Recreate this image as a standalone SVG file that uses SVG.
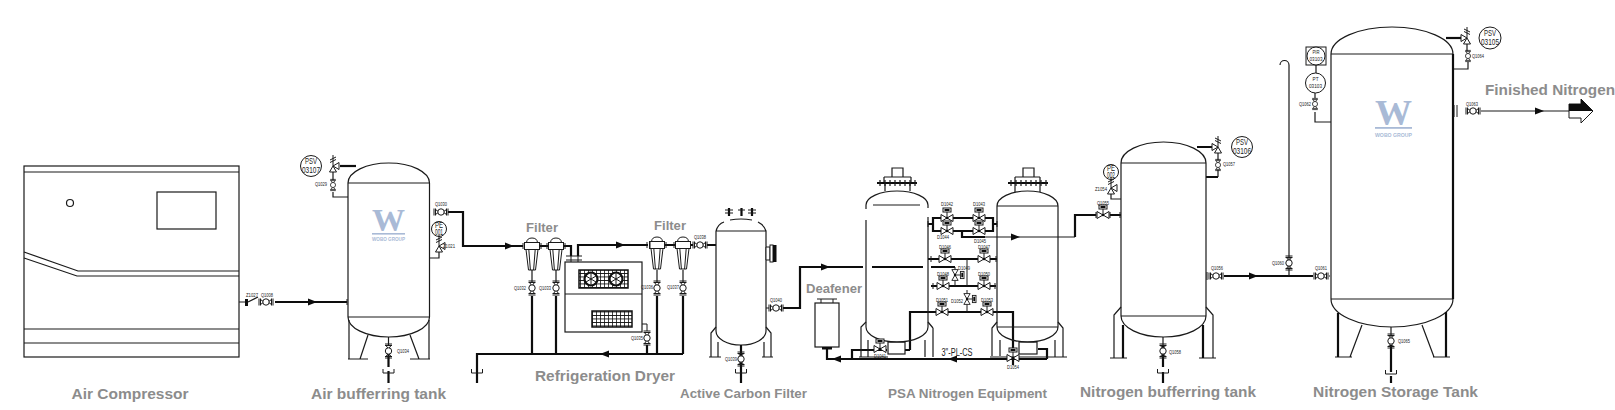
<svg xmlns="http://www.w3.org/2000/svg" width="1615" height="410" viewBox="0 0 1615 410">
<style>
text{font-family:"Liberation Sans",Arial,sans-serif}
.n{fill:none;stroke:#1a1a1a;stroke-width:1.2}
.w{fill:#fff;stroke:#1a1a1a;stroke-width:1}
.p{fill:none;stroke:#0d0d0d;stroke-width:2.2}
.f{fill:none;stroke:#1a1a1a;stroke-width:1}
.k{fill:#0d0d0d;stroke:none}
.g{fill:#8c8c8c;font-weight:bold;font-size:15px;text-anchor:middle}
.l{fill:#222;font-size:6px;text-anchor:middle}
.i{fill:#222;font-size:9px;text-anchor:middle}
.logo{fill:#a9bad6;font-family:"Liberation Serif",serif;font-weight:bold;text-anchor:middle}
.lg{fill:#a9bad6;font-weight:bold;font-size:6px;text-anchor:middle}
</style>
<defs>
<g id="gv"><path class="f" stroke-width="1.4" d="M-7-3.500V3.500M-5.500-3.500V3.500M7-3.500V3.500M5.500-3.500V3.500M-5.500-2.500-2 0-5.500 2.500M5.500-2.500 2 0 5.500 2.500"/><circle class="w" r="3.200" stroke-width="1.300"/></g>
<g id="av"><path class="w" stroke-width="1.200" d="M-6-3.500V3.500L6-3.500V3.500Z"/><path class="f" d="M0 0V-6"/><rect class="w" x="-4" y="-10" width="8" height="4"/><rect class="k" x="-2.500" y="-9" width="5" height="2"/><circle class="k" r="1.300"/></g>
<g id="sv"><path class="w" stroke-width="1.200" d="M0 0 6-3.500V3.500ZM0 0-3.500 6H3.500Z"/><path class="f" stroke-width="1.200" d="M0 0V-11M-3-6 3-9M-3-3.500 3-6.500"/></g>
<g id="ar"><path class="k" d="M-5-3.500 4 0-5 3.500Z"/></g>
<g id="cup"><path class="f" stroke-width="1.300" d="M-5.500-3V1H5.500V-3"/></g>
<g id="flt"><path class="w" d="M-6 3.500-3.500 24H3.500L6 3.500Z"/><path class="f" stroke-width="1.600" d="M-3.200 3.500-1.600 24M3.200 3.500 1.600 24"/><path class="w" d="M-5.500-3.500Q-5-8 0-8 5-8 5.500-3.500Z"/><rect class="w" x="-7.500" y="-3.500" width="15" height="7"/></g>
<pattern id="grid" width="4" height="3.500" patternUnits="userSpaceOnUse"><rect width="4" height="3.500" fill="#fff"/><path d="M4 0H0V3.500" fill="none" stroke="#111" stroke-width="1.600"/></pattern>
</defs>

<g id="connectors">
<path class="n" d="M239 302H245M248 302 258 297"/>
<rect class="k" x="245" y="299" width="3" height="7"/>
<path class="p" d="M275 302H347"/><path class="f" stroke-width="2" d="M347 299V305"/>
<use href="#ar" x="313" y="302"/>
<path class="p" d="M448 212H463V246H523"/><use href="#ar" x="510" y="246"/>
<path class="p" d="M540 246H548M564 246H571V256M578 256V245H648M665 245H675M691 245H693M707 245H716"/><use href="#ar" x="621" y="245"/>
<path class="p" d="M532 296V354M556 296V354M657 296V354M683 296V354M647 345V354"/>
<path class="p" d="M683 354H477V383"/><use href="#ar" transform="translate(604 354) rotate(180)"/>
<use href="#cup" x="477" y="372"/>
<path class="p" d="M783 308H800V267H863M872 267H923M931 267H955"/><use href="#ar" x="826" y="267"/>
<path class="p" d="M933 218H993V231H933ZM928 224H933M993 224H997M962 231V237H985M928 259H997M931 286H996M910 350V312H1013V352M910 350H905M1013 365V359M1047 359H827V349M1047 359V349H1038M852 359V350H887"/>
<path class="n" d="M985 237H1075"/>
<use href="#ar" x="1016" y="237"/>
<use href="#ar" transform="translate(836 359) rotate(180)"/>
<use href="#ar" transform="translate(952 359) rotate(180)"/>
<path class="f" d="M967 259V286M967 290V312M955 267V286"/>
<path class="p" d="M1075 237V215H1096M1110 215H1121M1197 147H1213M1218 177H1206M1224 276H1313"/><use href="#ar" x="1254" y="276"/>
<path class="n" d="M1289 276V65A4.500 4.500 0 0 0 1280 65"/>
<path class="n" d="M1330 276H1329M1481 111H1570"/><use href="#ar" x="1540" y="111"/>
<path class="p" d="M1446 38H1463"/>
<path class="n" d="M1468 62V69H1453M1315 112V122H1331M333 192V197H348M439 252V258H430M1111 194V199H1121M1218 170V177"/>
<path class="p" d="M340 166H356"/>
</g>

<g id="air-compressor" class="n">
<rect x="24" y="166" width="215" height="191"/>
<path d="M24 172H239M24 329H239M24 343H239M24 252 78 271H239M24 258 77 276H239"/>
<circle cx="70" cy="203" r="3.500"/>
<rect x="157" y="192" width="59" height="37"/>
<text class="g" x="130" y="399" stroke="none" font-size="15" textLength="117" lengthAdjust="spacingAndGlyphs">Air Compressor</text>
<text class="l" x="252" y="297" stroke="none" textLength="12" lengthAdjust="spacingAndGlyphs">Z1027</text>
<text class="l" x="267" y="297" stroke="none" textLength="12" lengthAdjust="spacingAndGlyphs">Q1008</text>
</g>
<use href="#gv" x="266" y="302"/>

<g id="air-tank">
<g class="n">
<path d="M348 183A40.750 20 0 0 1 429.500 183V317A40.750 20 0 0 1 348 317ZM348 183H429.500M348 317H429.500"/>
<path d="M349 320V359M348 359H368M368 335 360 359M429 320V359M410 359H430M410 335 419 359"/>
</g>
<path class="p" d="M388.500 350V367M388.500 371V383"/>
<path class="n" d="M388.500 337V345"/>
<use href="#gv" transform="translate(388.500 351) rotate(90)"/>
<use href="#cup" x="388.500" y="372"/>
<use href="#sv" x="333" y="166"/>
<path class="n" d="M333 172V180"/>
<use href="#gv" transform="translate(333 185) rotate(90) scale(.8)"/>
<circle class="w" cx="311" cy="166" r="10.500"/>
<text class="i" x="311" y="164" textLength="12" lengthAdjust="spacingAndGlyphs">PSV</text>
<text class="i" x="311" y="173" textLength="18" lengthAdjust="spacingAndGlyphs">03107</text>
<use href="#gv" x="441" y="212"/>
<circle class="w" cx="439" cy="229" r="7.500"/>
<text class="i" x="439" y="228" textLength="8" lengthAdjust="spacingAndGlyphs">PE</text>
<text class="i" x="439" y="235" textLength="8" lengthAdjust="spacingAndGlyphs">001</text>
<use href="#sv" x="439" y="246"/>
<text class="l" x="321" y="186" textLength="12" lengthAdjust="spacingAndGlyphs">Q1029</text>
<text class="l" x="441" y="206" textLength="12" lengthAdjust="spacingAndGlyphs">Q1030</text>
<text class="l" x="449" y="248" textLength="12" lengthAdjust="spacingAndGlyphs">Z1021</text>
<text class="l" x="403" y="353" textLength="12" lengthAdjust="spacingAndGlyphs">Q1034</text>
<text class="logo" x="388.500" y="231" font-size="31" textLength="33" lengthAdjust="spacingAndGlyphs">W</text>
<rect x="372" y="233" width="33" height="1.600" fill="#a9bad6"/>
<text class="lg" x="388.500" y="241" textLength="33" lengthAdjust="spacingAndGlyphs">WOBO GROUP</text>
<text class="g" x="378.500" y="399" textLength="135" lengthAdjust="spacingAndGlyphs">Air bufferring tank</text>
</g>

<g id="filters">
<use href="#flt" x="532" y="246"/><use href="#flt" x="556" y="246"/><use href="#flt" x="657" y="245"/><use href="#flt" x="683" y="245"/>
<path class="f" stroke-width="1.600" d="M523 243V249M541 243V249M547 243V249M565 243V249M647 242V248M650 242V248M666 242V248M674 242V248"/>
<g id="filter-valves">
<use href="#gv" transform="translate(532 288) rotate(90)"/><use href="#gv" transform="translate(556 288) rotate(90)"/><use href="#gv" transform="translate(657 288) rotate(90)"/><use href="#gv" transform="translate(683 288) rotate(90)"/>
</g>
<path class="n" d="M532 270V282M556 270V282M657 270V282M683 270V282"/>
<text class="l" x="520" y="290" textLength="12" lengthAdjust="spacingAndGlyphs">Q1032</text>
<text class="l" x="545" y="290" textLength="12" lengthAdjust="spacingAndGlyphs">Q1033</text>
<text class="l" x="647" y="289" textLength="12" lengthAdjust="spacingAndGlyphs">Q1036</text>
<text class="l" x="673" y="289" textLength="12" lengthAdjust="spacingAndGlyphs">Q1037</text>
<text class="l" x="700" y="239" textLength="12" lengthAdjust="spacingAndGlyphs">Q1038</text>
<use href="#gv" x="700" y="245"/>
<text class="g" x="542" y="232" style="font-size:13.500px" textLength="32" lengthAdjust="spacingAndGlyphs">Filter</text>
<text class="g" x="670" y="230" style="font-size:13.500px" textLength="32" lengthAdjust="spacingAndGlyphs">Filter</text>
</g>

<g id="refrigeration-dryer">
<rect class="n" x="565" y="262" width="77" height="70"/>
<path class="n" d="M565 294H642"/>
<path class="f" stroke-width="1.600" d="M566 256H582M566 260H582M571 256V262M578 256V262M642 324H647V331"/>
<rect x="579" y="270" width="49" height="18" fill="url(#grid)" stroke="#111" stroke-width="1.500"/>
<circle cx="591" cy="279" r="6.500" fill="#fff" stroke="#111" stroke-width="2.200"/><circle cx="616" cy="279" r="6.500" fill="#fff" stroke="#111" stroke-width="2.200"/>
<path class="f" stroke-width="1.800" d="M586 276 596 282M591 273V285M611 276 621 282M616 273V285M586 282 596 276M611 282 621 276"/>
<rect x="592" y="311" width="40" height="16" fill="url(#grid)" stroke="#111" stroke-width="1.500"/>
<use href="#gv" transform="translate(647 338) rotate(90)"/>
<text class="l" x="637" y="340" textLength="12" lengthAdjust="spacingAndGlyphs">Q1035</text>
<text class="g" x="605" y="381" textLength="140" lengthAdjust="spacingAndGlyphs">Refrigeration Dryer</text>
</g>

<g id="active-carbon-filter">
<path class="n" d="M716 231V331A25 14 0 0 0 766 331V231H716M716 231Q718 224 724 222M730 220Q741 218 752 220M758 222Q764 225 766 231"/>
<path class="n" d="M716 327 711 333V357M709 357H721M718 342V357M766 327 771 333V357M762 357H773M764 342V357"/>
<path class="p" d="M729 208V216M741.500 208V216M752 208V216M741 345V383"/>
<path class="f" stroke-width="1.700" d="M725 210H733M725 213H733M738 210H745M748 210H756M748 213H756"/>
<path class="w" d="M766 247H770V260H766Z"/>
<rect class="w" x="770" y="245" width="3" height="17"/>
<rect class="k" x="773" y="245" width="3.500" height="17"/>
<use href="#gv" transform="translate(741 359) rotate(90)"/>
<use href="#cup" x="741" y="372"/>
<use href="#gv" x="776" y="308"/>
<path class="f" stroke-width="1.600" d="M766 308H769"/>
<text class="l" x="731" y="361" textLength="12" lengthAdjust="spacingAndGlyphs">Q1039</text>
<text class="l" x="776" y="302" textLength="12" lengthAdjust="spacingAndGlyphs">Q1040</text>
<text class="g" x="743.500" y="398" style="font-size:13px" textLength="127" lengthAdjust="spacingAndGlyphs">Active Carbon Filter</text>
</g>

<g id="deafener">
<rect class="n" x="815" y="303" width="24" height="44"/>
<path class="f" stroke-width="1.400" d="M817 299H837M821 299V303M833 299V303"/>
<rect class="k" x="822" y="347" width="10" height="2.500"/>
<text class="g" x="834" y="293" style="font-size:13px" textLength="56" lengthAdjust="spacingAndGlyphs">Deafener</text>
</g>

<g id="psa-tank-a" class="n">
<path d="M866 220V327A31 15 0 0 0 928 327V217M928 208V205A31 14 0 0 0 897 191 31 14 0 0 0 866 205V209M873 205H920"/>
<path d="M866 322 861 327V357M933 328 928 322M933 328V357M925 340V357M868 340V357M859 357H888"/>
<path d="M885 183V191M910 183V191M884 177H911M892 168H903V177H892ZM884 177V183M911 177V183"/>
<rect class="k" x="877" y="182" width="40" height="2"/>
<path d="M880 180V186M885 180V186M890 180V186M895 180V186M900 180V186M905 180V186M910 180V186M915 180V186"/>
<rect x="888" y="342" width="17" height="12"/>
</g>
<g id="psa-tank-b" class="n">
<path d="M997 206A30.500 15 0 0 1 1058 206V327A30.500 15 0 0 1 997 327ZM997 206H1058M997 327H1058"/>
<path d="M997 322 992 328V356M1058 322 1063 328V357M1000 340V356M1055 340V357M990 357H1067"/>
<path d="M1015 183V192M1040 183V192M1015 177H1040M1023 168H1034V177H1023ZM1015 177V183M1040 177V183"/>
<rect class="k" x="1008" y="182" width="40" height="2"/>
<path d="M1011 180V186M1016 180V186M1021 180V186M1026 180V186M1031 180V186M1036 180V186M1041 180V186M1046 180V186"/>
<rect x="1019" y="342" width="18" height="12"/>
</g>
<g id="psa-valves">
<path class="f" stroke-width="2" d="M928 221V227M997 221V227M931 256V262M996 256V262M933 283V289M995 283V289"/>
<use href="#av" x="947" y="218"/><use href="#av" x="979" y="218"/><use href="#av" x="947" y="231"/><use href="#av" x="979" y="231"/>
<use href="#av" x="945" y="259"/><use href="#av" x="984" y="259"/>
<use href="#av" x="943" y="286"/><use href="#av" x="984" y="286"/>
<use href="#av" x="942" y="312"/><use href="#av" x="987" y="312"/>
<use href="#av" x="880" y="349"/><use href="#av" x="1013" y="358"/>
<use href="#av" transform="translate(955 275) rotate(90) scale(.9)"/>
<use href="#av" transform="translate(967 299) rotate(90) scale(.9)"/>
<g>
<text class="l" x="947" y="206" textLength="12" lengthAdjust="spacingAndGlyphs">D1042</text>
<text class="l" x="979" y="206" textLength="12" lengthAdjust="spacingAndGlyphs">D1043</text>
<text class="l" x="943" y="239" textLength="12" lengthAdjust="spacingAndGlyphs">D1044</text>
<text class="l" x="980" y="243" textLength="12" lengthAdjust="spacingAndGlyphs">D1045</text>
<text class="l" x="945" y="249" textLength="12" lengthAdjust="spacingAndGlyphs">D1046</text>
<text class="l" x="984" y="249" textLength="12" lengthAdjust="spacingAndGlyphs">D1047</text>
<text class="l" x="943" y="276" textLength="12" lengthAdjust="spacingAndGlyphs">D1048</text>
<text class="l" x="964" y="270" textLength="12" lengthAdjust="spacingAndGlyphs">D1049</text>
<text class="l" x="984" y="276" textLength="12" lengthAdjust="spacingAndGlyphs">D1050</text>
<text class="l" x="942" y="302" textLength="12" lengthAdjust="spacingAndGlyphs">D1051</text>
<text class="l" x="957" y="303" textLength="12" lengthAdjust="spacingAndGlyphs">D1052</text>
<text class="l" x="987" y="302" textLength="12" lengthAdjust="spacingAndGlyphs">D1053</text>
<text class="l" x="880" y="358" textLength="12" lengthAdjust="spacingAndGlyphs">D1041</text>
<text class="l" x="1013" y="369" textLength="12" lengthAdjust="spacingAndGlyphs">D1054</text>
</g>
<text x="957" y="356" fill="#222" font-size="10" text-anchor="middle" textLength="31" lengthAdjust="spacingAndGlyphs">3"-PL-CS</text>
<text class="g" x="967.500" y="398" style="font-size:13px" textLength="159" lengthAdjust="spacingAndGlyphs">PSA Nitrogen Equipment</text>
</g>

<g id="nitrogen-buffer-tank">
<g class="n">
<path d="M1121 163A42.500 21 0 0 1 1206 163V316A42.500 21 0 0 1 1121 316ZM1121 163H1206M1121 316H1206"/>
<path d="M1121 307 1114 315V358M1110 358H1127M1206 307 1213 315V358M1199 358H1216"/>
</g>
<path class="p" d="M1123 325V358M1203 325V358M1163 345V367M1163 372V383"/>
<path class="n" d="M1163 337V345"/>
<use href="#gv" transform="translate(1163 351) rotate(90)"/>
<use href="#cup" x="1163" y="372"/>
<circle class="w" cx="1111" cy="172" r="7.500"/>
<text class="i" x="1111" y="171" textLength="8" lengthAdjust="spacingAndGlyphs">PE</text>
<text class="i" x="1111" y="178" textLength="8" lengthAdjust="spacingAndGlyphs">002</text>
<use href="#sv" x="1111" y="188"/>
<use href="#sv" transform="translate(1218 147) scale(-1 1)"/>
<path class="n" d="M1218 153V160"/>
<use href="#gv" transform="translate(1218 165) rotate(90) scale(.8)"/>
<circle class="w" cx="1242" cy="147" r="10.500"/>
<text class="i" x="1242" y="145" textLength="12" lengthAdjust="spacingAndGlyphs">PSV</text>
<text class="i" x="1242" y="154" textLength="18" lengthAdjust="spacingAndGlyphs">03106</text>
<use href="#av" x="1103" y="215"/>
<path class="f" stroke-width="1.800" d="M1096 212V218M1110 212V218M1120 212V218"/>
<use href="#gv" x="1216" y="276"/>
<path class="f" stroke-width="1.500" d="M1207 272V280"/>
<text class="l" x="1103" y="205" textLength="12" lengthAdjust="spacingAndGlyphs">Q1055</text>
<text class="l" x="1101" y="191" textLength="12" lengthAdjust="spacingAndGlyphs">Z1054</text>
<text class="l" x="1229" y="166" textLength="12" lengthAdjust="spacingAndGlyphs">Q1057</text>
<text class="l" x="1217" y="270" textLength="12" lengthAdjust="spacingAndGlyphs">Q1056</text>
<text class="l" x="1175" y="354" textLength="12" lengthAdjust="spacingAndGlyphs">Q1058</text>
<text class="g" x="1168" y="397" textLength="176" lengthAdjust="spacingAndGlyphs">Nitrogen bufferring tank</text>
</g>

<g id="nitrogen-storage-tank">
<g class="n">
<path d="M1331 54A61 27 0 0 1 1453 54V299A61 28 0 0 1 1331 299ZM1331 54H1453M1331 299H1453"/>
<path d="M1362 325 1350 357M1422 325 1434 357M1335 357H1352M1433 357H1450"/>
</g>
<path class="p" d="M1338 313V357M1446 312V357M1453 54V299M1391 345V372M1391 376V383"/>
<path class="n" d="M1391 327V337"/>
<use href="#gv" transform="translate(1391 341) rotate(90)"/>
<use href="#cup" x="1391" y="373"/>
<use href="#gv" transform="translate(1289 263) rotate(90)"/>
<use href="#gv" x="1321" y="276"/>
<rect class="w" x="1306" y="47" width="20" height="18"/>
<circle class="w" cx="1316" cy="56" r="9"/>
<text class="l" x="1316" y="54" textLength="7" lengthAdjust="spacingAndGlyphs">PIR</text>
<text class="l" x="1316" y="61" textLength="13" lengthAdjust="spacingAndGlyphs">03103</text>
<path class="n" d="M1316 65V73"/>
<circle class="w" cx="1315.500" cy="83" r="10"/>
<text class="l" x="1315.500" y="81" textLength="6" lengthAdjust="spacingAndGlyphs">PT</text>
<text class="l" x="1315.500" y="88" textLength="13" lengthAdjust="spacingAndGlyphs">03103</text>
<path class="n" d="M1315 93V98"/>
<use href="#gv" transform="translate(1315 104) rotate(90) scale(.8)"/>
<use href="#sv" transform="translate(1467 38) scale(-1 1)"/>
<path class="n" d="M1467 44V51"/>
<use href="#gv" transform="translate(1468 56) rotate(90) scale(.8)"/>
<circle class="w" cx="1490" cy="38" r="11"/>
<text class="i" x="1490" y="36" textLength="12" lengthAdjust="spacingAndGlyphs">PSV</text>
<text class="i" x="1490" y="45" textLength="18" lengthAdjust="spacingAndGlyphs">03105</text>
<path class="f" stroke-width="1.500" d="M1454 105V117M1457 105V117"/>
<use href="#gv" x="1473" y="111"/>
<path class="w" d="M1569 104H1581V99L1593 111 1581 123V118H1569Z"/>
<path class="k" d="M1569 104H1581V99L1593 111H1569Z"/>
<text class="l" x="1278" y="265" textLength="12" lengthAdjust="spacingAndGlyphs">Q1060</text>
<text class="l" x="1321" y="270" textLength="12" lengthAdjust="spacingAndGlyphs">Q1061</text>
<text class="l" x="1305" y="106" textLength="12" lengthAdjust="spacingAndGlyphs">Q1062</text>
<text class="l" x="1472" y="106" textLength="12" lengthAdjust="spacingAndGlyphs">Q1063</text>
<text class="l" x="1478" y="58" textLength="12" lengthAdjust="spacingAndGlyphs">Q1064</text>
<text class="l" x="1404" y="343" textLength="12" lengthAdjust="spacingAndGlyphs">Q1065</text>
<text class="logo" x="1393.500" y="125" font-size="35" textLength="37" lengthAdjust="spacingAndGlyphs">W</text>
<rect x="1375" y="127" width="37" height="1.800" fill="#a9bad6"/>
<text class="lg" x="1393.500" y="137" textLength="37" lengthAdjust="spacingAndGlyphs">WOBO GROUP</text>
<text class="g" x="1395.500" y="397" textLength="165" lengthAdjust="spacingAndGlyphs">Nitrogen Storage Tank</text>
<text class="g" x="1550" y="95" textLength="130" lengthAdjust="spacingAndGlyphs">Finished Nitrogen</text>
</g>
</svg>
